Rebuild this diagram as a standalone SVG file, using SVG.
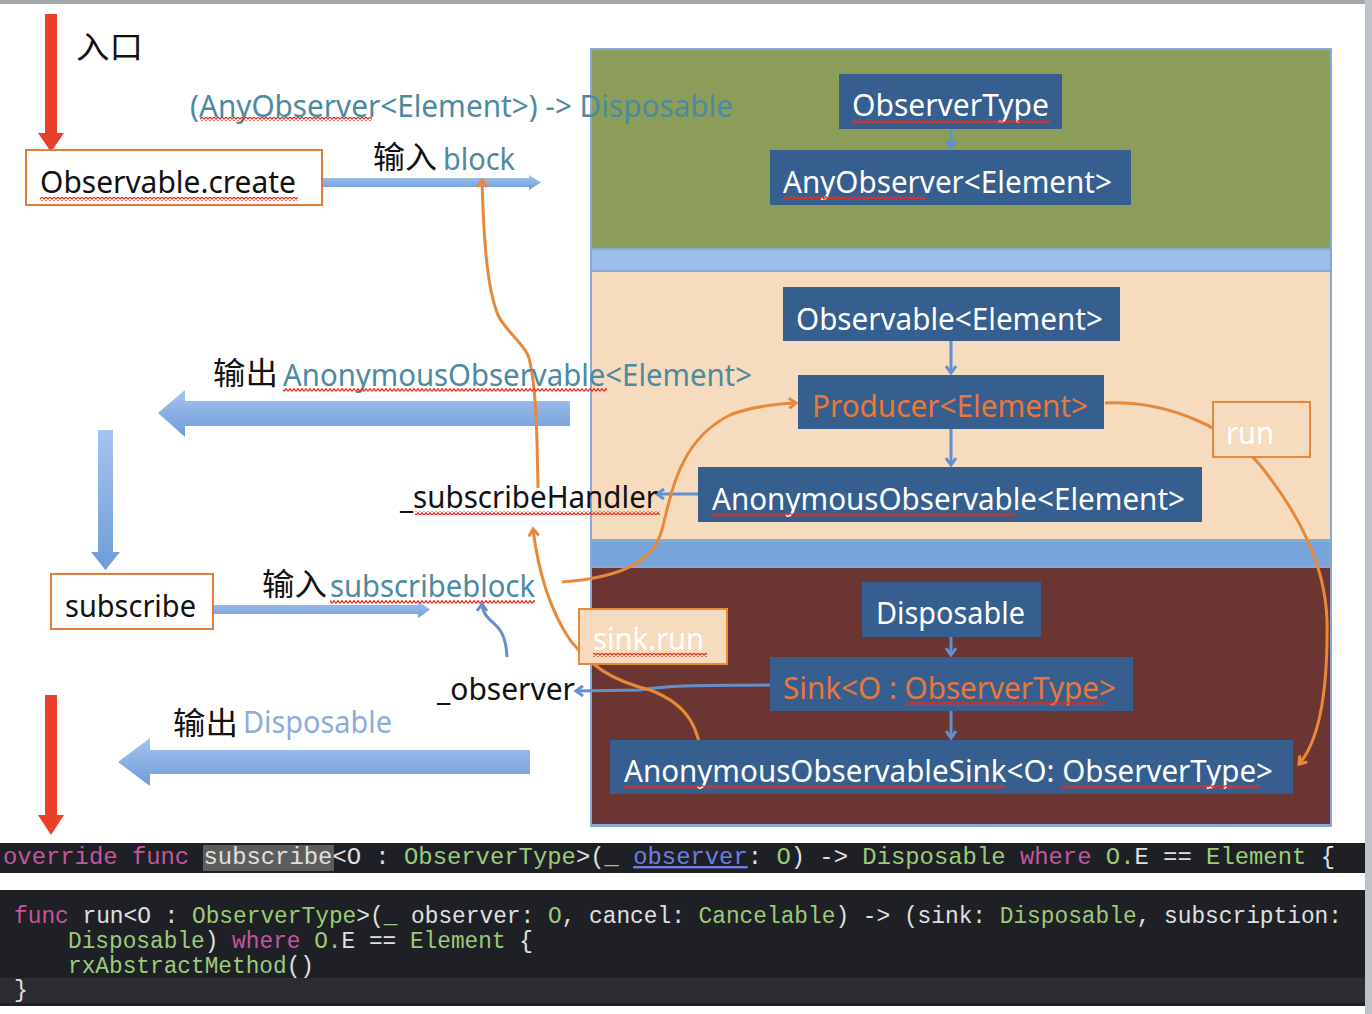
<svg xmlns="http://www.w3.org/2000/svg" width="1372" height="1014" viewBox="0 0 1372 1014">
<style>
.lbl{font-family:"Noto Sans","Liberation Sans",sans-serif;font-size:30px}
.cjk{font-family:"Noto Sans CJK SC","Noto Sans",sans-serif;font-size:31px;fill:#111}
.node{fill:#365e8e}
.nt{font-family:"Noto Sans","Liberation Sans",sans-serif;font-size:30px;fill:#fff}
.teal{fill:#4b8aa0}
.obox{fill:#fff;stroke:#e07b39;stroke-width:2}
.or{fill:none;stroke:#e8893a;stroke-width:3}
.bl{fill:none;stroke:#6390cc;stroke-width:3}
.code{font-family:"Liberation Mono","DejaVu Sans Mono",monospace;fill:#e0e0e0}
.kw{fill:#c2569f}.ty{fill:#9ccb78}.pm{fill:#6a7fe0;text-decoration:underline}
</style>
<defs>
<pattern id="wv" width="4" height="4" patternUnits="userSpaceOnUse"><path d="M0,3.3 L2,0.7 L4,3.3" fill="none" stroke="#e8301c" stroke-width="1.3"/></pattern>
<linearGradient id="bg" x1="0" y1="0" x2="0" y2="1"><stop offset="0" stop-color="#a6c4ef"/><stop offset="1" stop-color="#6f9bd8"/></linearGradient>
<marker id="ao" markerWidth="12" markerHeight="12" refX="9" refY="6" orient="auto" markerUnits="userSpaceOnUse"><path d="M2,1 L9,6 L2,11" fill="none" stroke="#e8893a" stroke-width="3"/></marker>
<marker id="ab" markerWidth="12" markerHeight="12" refX="9" refY="6" orient="auto" markerUnits="userSpaceOnUse"><path d="M2,1 L9,6 L2,11" fill="none" stroke="#6390cc" stroke-width="3"/></marker>
</defs>
<rect width="1372" height="1014" fill="#fff"/>
<rect x="0" y="0" width="1372" height="4" fill="#a4a6ae"/>
<rect x="1365" y="0" width="7" height="1014" fill="#bfc2c9"/>

<!-- panels -->
<g id="panels">
<rect x="590" y="48" width="742" height="779" fill="#86a9d8"/>
<rect x="592" y="50" width="738" height="198" fill="#8c9d59"/>
<rect x="592" y="250" width="738" height="20" fill="#9cbde9"/>
<rect x="592" y="272" width="738" height="267" fill="#f7dbbf"/>
<rect x="592" y="542" width="738" height="24" fill="#78a4dc"/>
<rect x="592" y="568" width="738" height="256" fill="#6b3631"/>
</g>

<!-- connectors -->
<g id="connectors">
<polygon points="45,14 57,14 57,133 64,133 51,152 38,133 45,133" fill="#e8402a"/>
<polygon points="45,695 57,695 57,815 64,815 51,835 38,815 45,815" fill="#e8402a"/>
<polygon points="322,178 529,178 529,175 541,182.5 529,190 529,187 322,187" fill="url(#bg)"/>
<polygon points="213,605 418,605 418,601 430,609.5 418,618 418,614 213,614" fill="url(#bg)"/>
<polygon points="570,401 185,401 185,390 158,413 185,437 185,426 570,426" fill="url(#bg)"/>
<polygon points="530,750 150,750 150,738 118,762 150,786 150,774 530,774" fill="url(#bg)"/>
<polygon points="98,430 113,430 113,552 120,552 105.5,570 91,552 98,552" fill="url(#bg)"/>
<path class="bl" d="M951,129 L951,148" marker-end="url(#ab)"/>
<path class="bl" d="M951,341 L951,373" marker-end="url(#ab)"/>
<path class="bl" d="M951,429 L951,465" marker-end="url(#ab)"/>
<path class="bl" d="M951,637 L951,655" marker-end="url(#ab)"/>
<path class="bl" d="M951,711 L951,738" marker-end="url(#ab)"/>
<path class="bl" d="M698,494 L657,494" marker-end="url(#ab)"/>
<path class="bl" d="M770,685 C720,686 680,684 640,690 L576,691" marker-end="url(#ab)"/>
<path class="bl" d="M507,657 C506,635 500,628 490,620 C484,614 482,610 482,604" marker-end="url(#ab)"/>
<path class="or" d="M538,488 C537,430 536,380 528,355 C520,340 505,330 498,315 C488,290 484,250 482,180" marker-end="url(#ao)"/>
<path class="or" d="M703,767 C700,730 690,705 650,690 C610,680 590,665 570,640 C550,610 538,570 533,529" marker-end="url(#ao)"/>
<path class="or" d="M562,582 C615,578 652,565 662,530 C672,490 680,440 730,415 C750,407 775,404 796,403" marker-end="url(#ao)"/>
<path class="or" d="M1105,403 C1170,400 1230,430 1260,465 C1300,515 1325,565 1327,620 C1328,690 1320,740 1299,764" marker-end="url(#ao)"/>
</g>

<!-- left labels -->
<g id="entry"><text class="cjk" x="76" y="58" textLength="67" lengthAdjust="spacingAndGlyphs">入口</text></g>
<g id="sig"><text class="lbl teal" x="190" y="117" textLength="543" lengthAdjust="spacingAndGlyphs">(AnyObserver&lt;Element&gt;) -&gt; Disposable</text>
<rect x="200" y="117" width="172" height="4" fill="url(#wv)"/></g>
<g id="create"><rect class="obox" x="26" y="150" width="296" height="55"/>
<text class="lbl" x="40" y="193" fill="#111" textLength="256" lengthAdjust="spacingAndGlyphs">Observable.create</text>
<rect x="40" y="197" width="258" height="4" fill="url(#wv)"/></g>
<g id="inblock"><text class="cjk" x="373" y="168" textLength="64" lengthAdjust="spacingAndGlyphs">输入</text>
<text class="lbl teal" x="443" y="170" textLength="72" lengthAdjust="spacingAndGlyphs">block</text></g>
<g id="outAO"><text class="cjk" x="213" y="384" textLength="65" lengthAdjust="spacingAndGlyphs">输出</text>
<text class="lbl teal" x="283" y="386" textLength="469" lengthAdjust="spacingAndGlyphs">AnonymousObservable&lt;Element&gt;</text>
<rect x="283" y="388" width="324" height="4" fill="url(#wv)"/></g>
<g id="subHandler"><text class="lbl" x="400" y="508" fill="#111" textLength="258" lengthAdjust="spacingAndGlyphs">_subscribeHandler</text>
<rect x="415" y="511" width="245" height="4" fill="url(#wv)"/></g>
<g id="subscribe"><rect class="obox" x="51" y="574" width="162" height="55"/>
<text class="lbl" x="65" y="617" fill="#111" textLength="131" lengthAdjust="spacingAndGlyphs">subscribe</text></g>
<g id="insub"><text class="cjk" x="262" y="595" textLength="65" lengthAdjust="spacingAndGlyphs">输入</text>
<text class="lbl teal" x="330" y="597" textLength="205" lengthAdjust="spacingAndGlyphs">subscribeblock</text>
<rect x="330" y="600" width="205" height="4" fill="url(#wv)"/></g>
<g id="observer"><text class="lbl" x="437" y="700" fill="#111" textLength="138" lengthAdjust="spacingAndGlyphs">_observer</text></g>
<g id="outDisp"><text class="cjk" x="173" y="734" textLength="65" lengthAdjust="spacingAndGlyphs">输出</text>
<text class="lbl" x="243" y="733" fill="#8fabd8" textLength="149" lengthAdjust="spacingAndGlyphs">Disposable</text></g>

<!-- nodes -->
<g id="observerType"><rect class="node" x="839" y="74" width="223" height="55"/>
<text class="nt" x="852" y="116" textLength="197" lengthAdjust="spacingAndGlyphs">ObserverType</text>
<rect x="852" y="119" width="198" height="4" fill="url(#wv)"/></g>
<g id="anyObserver"><rect class="node" x="770" y="150" width="361" height="55"/>
<text class="nt" x="783" y="193" textLength="329" lengthAdjust="spacingAndGlyphs">AnyObserver&lt;Element&gt;</text>
<rect x="783" y="196" width="142" height="4" fill="url(#wv)"/></g>
<g id="observable"><rect class="node" x="783" y="287" width="337" height="54"/>
<text class="nt" x="796" y="330" textLength="307" lengthAdjust="spacingAndGlyphs">Observable&lt;Element&gt;</text></g>
<g id="producer"><rect class="node" x="798" y="375" width="306" height="54"/>
<text class="nt" x="812" y="417" style="fill:#e8783a" textLength="276" lengthAdjust="spacingAndGlyphs">Producer&lt;Element&gt;</text></g>
<g id="anonObs"><rect class="node" x="698" y="467" width="504" height="55"/>
<text class="nt" x="712" y="510" textLength="473" lengthAdjust="spacingAndGlyphs">AnonymousObservable&lt;Element&gt;</text>
<rect x="712" y="513" width="303" height="4" fill="url(#wv)"/></g>
<g id="run"><rect x="1213" y="402" width="97" height="55" fill="#f7dbbf" stroke="#e8893a" stroke-width="2"/>
<text class="nt" x="1226" y="444" textLength="48" lengthAdjust="spacingAndGlyphs">run</text></g>
<g id="disposable"><rect class="node" x="862" y="582" width="179" height="55"/>
<text class="nt" x="876" y="624" textLength="149" lengthAdjust="spacingAndGlyphs">Disposable</text></g>
<g id="sink"><rect class="node" x="770" y="657" width="363" height="54"/>
<text class="nt" x="783" y="699" style="fill:#e8783a" textLength="333" lengthAdjust="spacingAndGlyphs">Sink&lt;O : ObserverType&gt;</text>
<rect x="906" y="702" width="200" height="4" fill="url(#wv)"/></g>
<g id="sinkRun"><rect x="579" y="609" width="148" height="55" fill="#f7dbbf" stroke="#e8893a" stroke-width="2"/>
<text class="nt" x="593" y="650" textLength="111" lengthAdjust="spacingAndGlyphs">sink.run</text>
<rect x="593" y="653" width="114" height="4" fill="url(#wv)"/></g>
<g id="anonSink"><rect class="node" x="610" y="740" width="683" height="54"/>
<text class="nt" x="624" y="782" textLength="649" lengthAdjust="spacingAndGlyphs">AnonymousObservableSink&lt;O: ObserverType&gt;</text>
<rect x="624" y="785" width="381" height="4" fill="url(#wv)"/>
<rect x="1062" y="785" width="198" height="4" fill="url(#wv)"/></g>

<!-- code -->
<g id="code1">
<rect x="0" y="843" width="1365" height="30" fill="#1f2026"/>
<rect x="203" y="845" width="131" height="26" fill="#5d5d5d"/>
<text class="code" x="3" y="864" font-size="24" textLength="1332" lengthAdjust="spacingAndGlyphs" xml:space="preserve"><tspan class="kw">override</tspan> <tspan class="kw">func</tspan> subscribe&lt;O : <tspan class="ty">ObserverType</tspan>&gt;(<tspan class="ty">_</tspan> <tspan class="pm">observer</tspan>: <tspan class="ty">O</tspan>) -&gt; <tspan class="ty">Disposable</tspan> <tspan class="kw">where</tspan> <tspan class="ty">O.</tspan>E == <tspan class="ty">Element</tspan> {</text>
</g>
<g id="code2">
<rect x="0" y="890" width="1365" height="116" fill="#1f2026"/>
<rect x="0" y="978" width="1365" height="25" fill="#2c2c31"/>
<text class="code" x="14" y="923" font-size="23" textLength="1328" lengthAdjust="spacingAndGlyphs" xml:space="preserve"><tspan class="kw">func</tspan> run&lt;O : <tspan class="ty">ObserverType</tspan>&gt;(<tspan class="ty">_</tspan> observer: <tspan class="ty">O</tspan>, cancel: <tspan class="ty">Cancelable</tspan>) -&gt; (sink: <tspan class="ty">Disposable</tspan>, subscription:</text>
<text class="code" x="68" y="948" font-size="23" textLength="465" lengthAdjust="spacingAndGlyphs" xml:space="preserve"><tspan class="ty">Disposable</tspan>) <tspan class="kw">where</tspan> <tspan class="ty">O.</tspan>E == <tspan class="ty">Element</tspan> {</text>
<text class="code" x="68" y="973" font-size="23" textLength="246" lengthAdjust="spacingAndGlyphs"><tspan class="ty">rxAbstractMethod</tspan>()</text>
<text class="code" x="14" y="997" font-size="23">}</text>
</g>
</svg>
